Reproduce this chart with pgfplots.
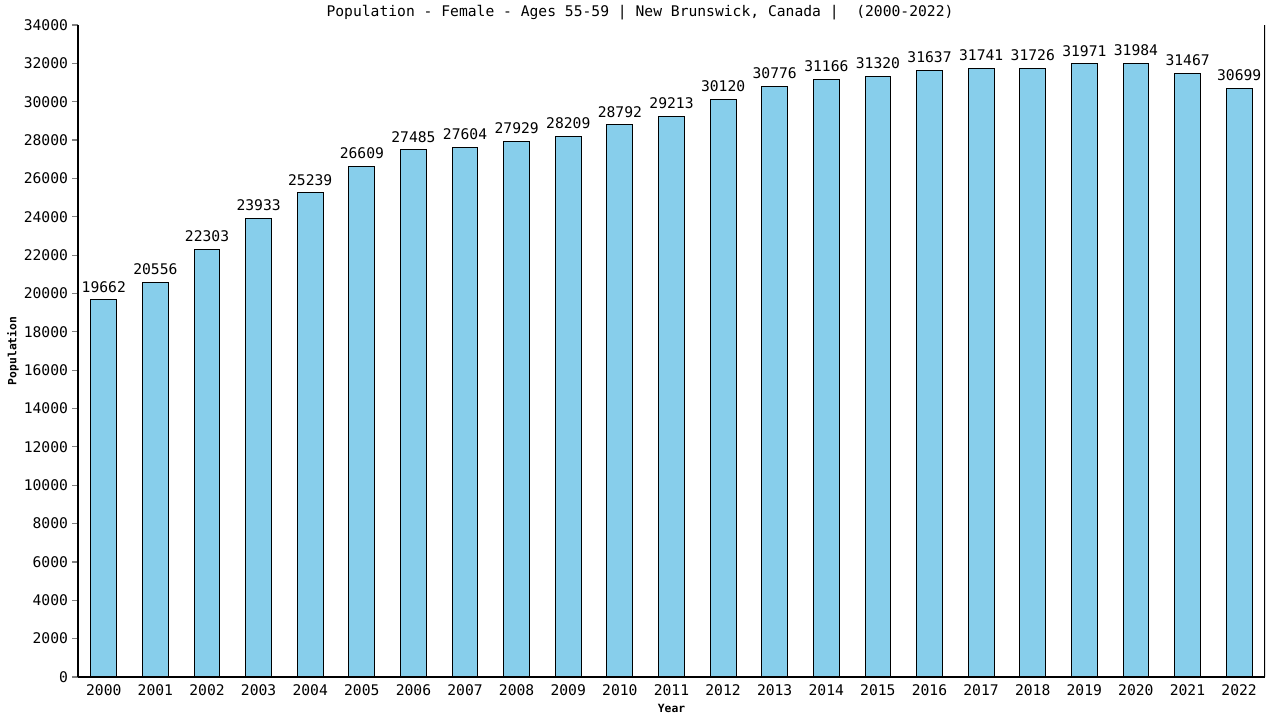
\documentclass[border=0pt]{standalone}
\usepackage{fontspec}
\setmainfont{DejaVu Sans Mono}
\usepackage{pgfplots}
\pgfplotsset{compat=1.18}
\definecolor{barblue}{RGB}{135,206,235}

\begin{document}
\begin{tikzpicture}
  \path[use as bounding box] (0,0) rectangle (960pt,540pt);
  \begin{axis}[
    at={(58.5pt,32.25pt)}, anchor=south west,
    scale only axis,
    width=890.25pt, height=489pt,
    xmin=1999.5, xmax=2022.5,
    ymin=0, ymax=34000,
    xtick={2000,...,2022},
    ytick={0,2000,...,34000},
    axis x line=bottom, axis y line=left,
    axis line style={-, line width=0.9pt},
    x tick style={draw=none},
    y tick style={line width=0.9pt},
    major tick length=4.5pt,
    tick align=outside,
    /pgf/number format/1000 sep={},
    /pgf/number format/assume math mode=true,
    scaled y ticks=false,
    tick label style={font=\fontsize{11}{13}\selectfont},
    yticklabel style={xshift=0.5pt},
    xticklabel style={yshift=2pt},
    every axis title shift=0pt,
    title={Population - Female - Ages 55-59 | New Brunswick, Canada |~~(2000-2022)},
    title style={at={(axis description cs:0.4735,1.0184)}, anchor=center, font=\fontsize{11}{13}\selectfont},
    xlabel={Year},
    xlabel style={at={(axis description cs:0.5,-0.0475)}, anchor=center, font=\fontsize{8.5}{10}\selectfont\bfseries},
    ylabel={Population},
    ylabel style={at={(axis description cs:-0.0548,0.5)}, anchor=center, rotate=0, font=\fontsize{8.5}{10}\selectfont\bfseries},
    ybar, bar width=0.5,
    nodes near coords,
    nodes near coords style={font=\fontsize{11}{13}\selectfont, anchor=south, yshift=2pt},
  ]
    \addplot[fill=barblue, draw=black, line width=0.75pt] coordinates {
      (2000,19662) (2001,20556) (2002,22303) (2003,23933) (2004,25239)
      (2005,26609) (2006,27485) (2007,27604) (2008,27929) (2009,28209)
      (2010,28792) (2011,29213) (2012,30120) (2013,30776) (2014,31166)
      (2015,31320) (2016,31637) (2017,31741) (2018,31726) (2019,31971)
      (2020,31984) (2021,31467) (2022,30699)
    };
    \draw[line width=0.9pt] (rel axis cs:1,0) -- (rel axis cs:1,1);
  \end{axis}
\end{tikzpicture}
\end{document}
